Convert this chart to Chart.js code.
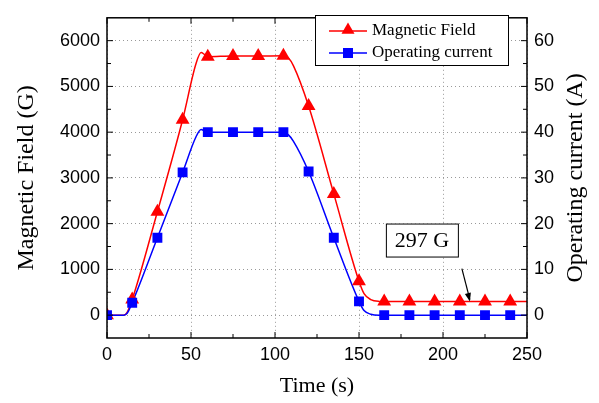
<!DOCTYPE html>
<html>
<head>
<meta charset="utf-8">
<script src="https://cdn.jsdelivr.net/npm/chart.js@4.4.1/dist/chart.umd.min.js"></script>
<style>
  html, body { margin: 0; padding: 0; background: #fff; }
  #wrap { width: 599px; height: 403px; }
</style>
</head>
<body>
<div id="wrap"><canvas id="fieldChart" width="599" height="403"></canvas></div>
<script>
// markers, one every 15 s
const markTimes = [0, 15, 30, 45, 60, 75, 90, 105, 120, 135, 150, 165, 180, 195, 210, 225, 240];
const fieldMarks = [0, 340, 2260, 4270, 5650, 5665, 5665, 5670, 4570, 2650, 740, 297, 297, 297, 297, 297, 297];
const currentMarks = [0, 2.7, 16.9, 31.2, 40, 40, 40, 40, 31.4, 16.9, 3.0, 0, 0, 0, 0, 0, 0];

// the smooth traces
const fieldLineTimes = [0, 10, 12, 15, 30, 45, 53, 56, 58, 60, 75, 90, 105, 108, 111, 120, 135, 150, 153, 157, 162, 165, 250];
const fieldLine = [0, 0, 60, 340, 2260, 4270, 5500, 5740, 5700, 5650, 5665, 5665, 5670, 5620, 5450, 4570, 2650, 740, 470, 340, 300, 297, 297];
const currentLineTimes = [0, 10, 12, 15, 30, 45, 53, 56, 58, 60, 75, 90, 105, 108, 111, 120, 135, 150, 153, 157, 162, 250];
const currentLine = [0, 0, 0.4, 2.7, 16.9, 31.2, 39, 40.6, 40.3, 40, 40, 40, 40, 39.4, 38, 31.4, 16.9, 3.0, 1.0, 0.2, 0, 0];

const timeTicks = [0, 50, 100, 150, 200, 250];
const fieldTicks = [0, 1000, 2000, 3000, 4000, 5000, 6000];
const currentTicks = [0, 10, 20, 30, 40, 50, 60];

const RED = "#ff0000";
const BLUE = "#0000ff";
const SERIF = "'Liberation Serif', 'Times New Roman', serif";
const SANS = "'Liberation Sans', Arial, sans-serif";

const toPoints = (xs, ys) => xs.map((x, i) => ({ x: x, y: ys[i] }));

// major ticks plus the half-way minor ones
function withMinor(ticks) {
  const out = [];
  ticks.forEach((v, i) => {
    out.push([v, true]);
    if (i < ticks.length - 1) out.push([(v + ticks[i + 1]) / 2, false]);
  });
  return out;
}

function line(ctx, x1, y1, x2, y2) {
  ctx.beginPath();
  ctx.moveTo(x1, y1);
  ctx.lineTo(x2, y2);
  ctx.stroke();
}

function triangle(ctx, x, y, r) {
  ctx.beginPath();
  ctx.moveTo(x, y - r);
  ctx.lineTo(x + r * 0.866, y + r / 2);
  ctx.lineTo(x - r * 0.866, y + r / 2);
  ctx.closePath();
  ctx.fill();
}

// box frame + inward ticks (Origin style)
const framePlugin = {
  id: "frame",
  afterDatasetsDraw(chart) {
    const { ctx, chartArea: a, scales } = chart;
    ctx.save();
    ctx.strokeStyle = "#000";
    ctx.lineWidth = 1;
    withMinor(timeTicks).forEach(([v, major]) => {
      const x = scales.x.getPixelForValue(v);
      const len = major ? 6 : 4;
      line(ctx, x, a.bottom, x, a.bottom - len);
      line(ctx, x, a.top, x, a.top + len);
    });
    withMinor(fieldTicks).forEach(([v, major]) => {
      const y = scales.y.getPixelForValue(v);
      line(ctx, a.left, y, a.left + (major ? 6 : 4), y);
    });
    withMinor(currentTicks).forEach(([v, major]) => {
      const y = scales.y1.getPixelForValue(v);
      line(ctx, a.right, y, a.right - (major ? 6 : 4), y);
    });
    ctx.lineWidth = 1.5;
    ctx.strokeRect(a.left, a.top, a.right - a.left, a.bottom - a.top);
    ctx.restore();
  },
  afterDraw(chart) {
    const { ctx, scales, chartArea: a } = chart;
    ctx.save();

    // right axis title, reading bottom-to-top like the left one
    ctx.save();
    ctx.translate(576, (a.top + a.bottom) / 2);
    ctx.rotate(-Math.PI / 2);
    ctx.fillStyle = "#000";
    ctx.font = "24px " + SERIF;
    ctx.textAlign = "center";
    ctx.textBaseline = "middle";
    ctx.fillText("Operating current (A)", 0, 0);
    ctx.restore();

    // legend
    const lx = 315, ly = 15, lw = 193, lh = 50;
    ctx.fillStyle = "#fff";
    ctx.fillRect(lx, ly, lw, lh);
    ctx.strokeStyle = "#000";
    ctx.lineWidth = 1;
    ctx.strokeRect(lx + 0.5, ly + 0.5, lw, lh);
    const rows = [
      { y: ly + 16, color: RED, label: "Magnetic Field", tri: true },
      { y: ly + 38, color: BLUE, label: "Operating current", tri: false }
    ];
    rows.forEach((r) => {
      ctx.strokeStyle = r.color;
      ctx.fillStyle = r.color;
      ctx.lineWidth = 1.5;
      line(ctx, lx + 14, r.y, lx + 52, r.y);
      if (r.tri) triangle(ctx, lx + 33, r.y - 1, 7.5);
      else ctx.fillRect(lx + 28, r.y - 5, 10, 10);
      ctx.fillStyle = "#000";
      ctx.font = "17px " + SERIF;
      ctx.textBaseline = "middle";
      ctx.textAlign = "left";
      ctx.fillText(r.label, lx + 57, r.y);
    });

    // "297 G" call-out with arrow
    const tipX = scales.x.getPixelForValue(216);
    const tipY = scales.y.getPixelForValue(297);
    const bx = tipX - 84, by = tipY - 78;
    ctx.fillStyle = "#fff";
    ctx.fillRect(bx, by, 72, 33);
    ctx.strokeStyle = "#000";
    ctx.lineWidth = 1;
    ctx.strokeRect(bx + 0.5, by + 0.5, 72, 33);
    ctx.fillStyle = "#000";
    ctx.font = "22px " + SERIF;
    ctx.textAlign = "center";
    ctx.textBaseline = "middle";
    ctx.fillText("297 G", bx + 36, by + 18);

    const sx = tipX - 8, sy = tipY - 33;
    ctx.lineWidth = 1.2;
    line(ctx, sx, sy, tipX, tipY - 2);
    const ang = Math.atan2(tipY - sy, tipX - sx);
    ctx.beginPath();
    ctx.moveTo(tipX, tipY);
    ctx.lineTo(tipX - 9 * Math.cos(ang - 0.35), tipY - 9 * Math.sin(ang - 0.35));
    ctx.lineTo(tipX - 9 * Math.cos(ang + 0.35), tipY - 9 * Math.sin(ang + 0.35));
    ctx.closePath();
    ctx.fill();

    ctx.restore();
  }
};

const plainNumber = (v) => String(v);

const ctx = document.getElementById("fieldChart");

new Chart(ctx, {
  type: "line",
  data: {
    datasets: [
      {
        label: "Operating current",
        data: toPoints(markTimes, currentMarks),
        yAxisID: "y1",
        showLine: false,
        pointStyle: "rect",
        pointRadius: 7,
        pointBackgroundColor: BLUE,
        pointBorderColor: BLUE,
        pointBorderWidth: 0
      },
      {
        label: "Magnetic Field",
        data: toPoints(markTimes, fieldMarks),
        yAxisID: "y",
        showLine: false,
        pointStyle: "triangle",
        pointRadius: 8,
        pointBackgroundColor: RED,
        pointBorderColor: RED,
        pointBorderWidth: 0
      },
      {
        label: "current trace",
        data: toPoints(currentLineTimes, currentLine),
        yAxisID: "y1",
        borderColor: BLUE,
        borderWidth: 1.5,
        pointRadius: 0,
        cubicInterpolationMode: "monotone",
        fill: false
      },
      {
        label: "field trace",
        data: toPoints(fieldLineTimes, fieldLine),
        yAxisID: "y",
        borderColor: RED,
        borderWidth: 1.5,
        pointRadius: 0,
        cubicInterpolationMode: "monotone",
        fill: false
      }
    ]
  },
  options: {
    responsive: false,
    animation: false,
    layout: { padding: { top: 8 } },
    plugins: {
      legend: { display: false },
      tooltip: { enabled: false }
    },
    scales: {
      x: {
        type: "linear",
        min: 0,
        max: 250,
        afterBuildTicks: (s) => { s.ticks = timeTicks.map((v) => ({ value: v })); },
        afterFit: (s) => { s.height = 65; },
        grid: { color: "#999", drawTicks: false },
        border: { display: false, dash: [1, 3] },
        ticks: { color: "#000", padding: 6, font: { family: SANS, size: 18 }, callback: plainNumber },
        title: {
          display: true,
          text: "Time (s)",
          color: "#000",
          font: { family: SERIF, size: 22 },
          padding: { bottom: 4 }
        }
      },
      y: {
        position: "left",
        min: -500,
        max: 6500,
        afterBuildTicks: (s) => { s.ticks = fieldTicks.map((v) => ({ value: v })); },
        afterFit: (s) => { s.width = 107; },
        grid: { color: "#999", drawTicks: false },
        border: { display: false, dash: [1, 3] },
        ticks: { color: "#000", padding: 7, font: { family: SANS, size: 18 }, callback: plainNumber },
        title: {
          display: true,
          text: "Magnetic Field (G)",
          color: "#000",
          font: { family: SERIF, size: 24 },
          padding: { top: 12 }
        }
      },
      y1: {
        position: "right",
        min: -5,
        max: 65,
        afterBuildTicks: (s) => { s.ticks = currentTicks.map((v) => ({ value: v })); },
        afterFit: (s) => { s.width = 72; },
        grid: { display: false, drawTicks: false },
        border: { display: false },
        ticks: { color: "#000", padding: 7, font: { family: SANS, size: 18 }, callback: plainNumber },
        title: { display: false }
      }
    }
  },
  plugins: [framePlugin]
});
</script>
</body>
</html>
